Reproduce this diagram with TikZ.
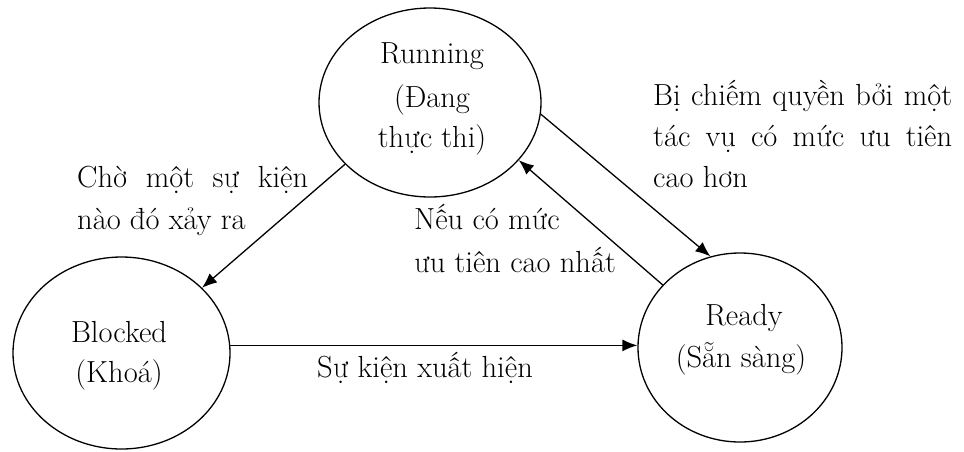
\documentclass[tikz,border=0pt]{standalone}
\usepackage{fontspec}
\setmainfont{Latin Modern Roman}
\usetikzlibrary{shapes.geometric,arrows.meta}
\newcommand{\jline}[2]{\makebox[#1][s]{#2}}
\begin{document}
\begin{tikzpicture}[x=1pt,y=-1pt,
  stnode/.style={draw,ellipse,line width=1.3pt,inner sep=0pt},
  lbl/.style={inner sep=0pt,font=\fontsize{30.5}{36}\selectfont},
  conn/.style={line width=1.3pt,-{Latex[length=15pt,width=12pt]}}]
\useasboundingbox (0,0) rectangle (964,451);
\node[stnode,minimum width=222pt,minimum height=189pt] (run) at (430,102.5) {};
\node[stnode,minimum width=217pt,minimum height=192pt] (blk) at (121.5,353) {};
\node[stnode,minimum width=204pt,minimum height=189pt] (rdy) at (740,347.5) {};
% state texts
\node[lbl,anchor=base] (r1) at (432,63) {Running};
\node[lbl,anchor=base] (r2) at (432,107) {(Đang};
\node[lbl,anchor=base] (r3) at (432,147) {thực thi)};
\node[lbl,anchor=base] (b1) at (119,342) {Blocked};
\node[lbl,anchor=base] (b2) at (119,382) {(Khoá)};
\node[lbl,anchor=base] (d1) at (744,325) {Ready};
\node[lbl,anchor=base] (d2) at (741,367) {(Sẵn sàng)};
% edge labels
\node[lbl,anchor=base west] (c1) at (77,187) {\jline{231pt}{Chờ một sự kiện}};
\node[lbl,anchor=base west] (c2) at (77,229) {nào đó xảy ra};
\node[lbl,anchor=base west] (p1) at (653,105) {\jline{299pt}{Bị chiếm quyền bởi một}};
\node[lbl,anchor=base west] (p2) at (653,146) {\jline{299pt}{tác vụ có mức ưu tiên}};
\node[lbl,anchor=base west] (p3) at (653,187) {cao hơn};
\node[lbl,anchor=base west] (n1) at (414,229) {Nếu có mức};
\node[lbl,anchor=base west] (n2) at (414,272) {ưu tiên cao nhất};
\node[lbl,anchor=base west] (e1) at (317,377) {Sự kiện xuất hiện};
% connectors
\draw[conn] (run.216) -- (blk.39);
\draw[conn] (run.-6.4) -- (rdy.108.9);
\draw[conn] (rdy.141.3) -- (run.-33.5);
\draw[conn] (blk.4.2) -- (blk.4.2 -| rdy.west);
\end{tikzpicture}
\end{document}
